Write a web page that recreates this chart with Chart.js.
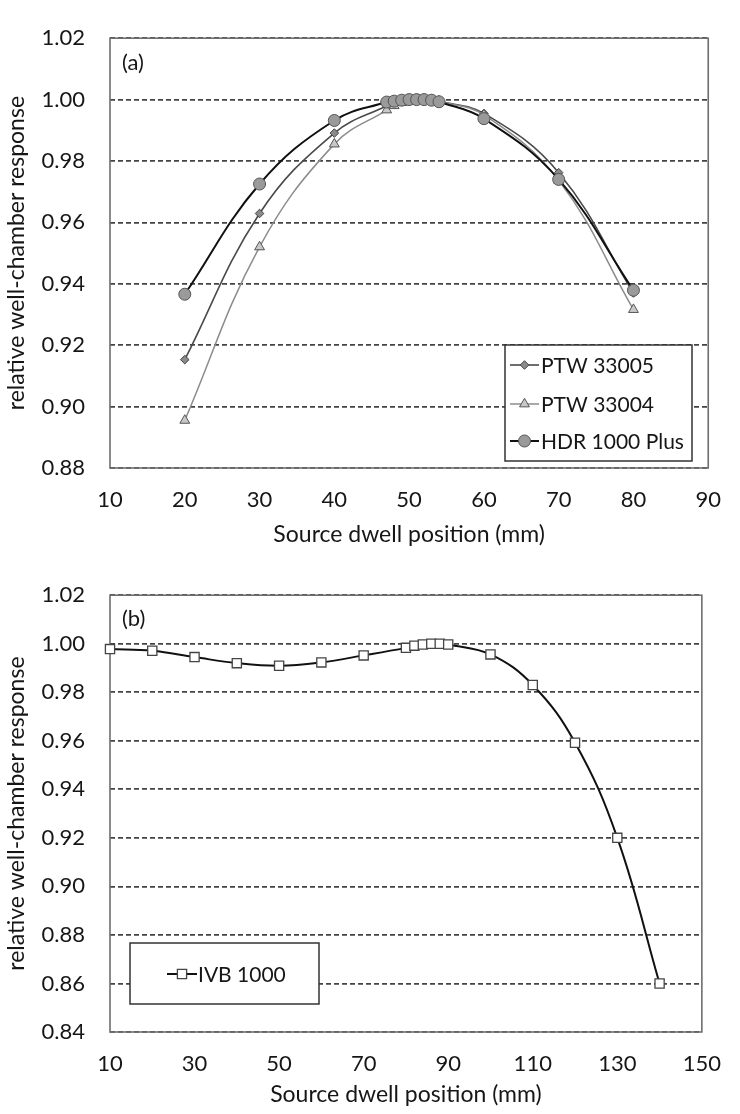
<!DOCTYPE html>
<html><head><meta charset="utf-8">
<script src="https://cdn.jsdelivr.net/npm/chart.js@4.4.1/dist/chart.umd.min.js"></script>
<style>
html,body{margin:0;padding:0;background:#fff;}
canvas{position:absolute;left:0;display:block;}
#chartA{top:0;}
#chartB{top:557px;}
</style></head><body>
<canvas id="chartA" width="740" height="557"></canvas>
<canvas id="chartB" width="740" height="557"></canvas>
<script>
// ---- data ----
const positionsA = [20, 30, 40, 47, 48, 49, 50, 51, 52, 53, 54, 60, 70, 80];
const ptw33005 = [0.9153, 0.9629, 0.9891, 0.998, 0.999, 0.9995, 1.0, 1.0, 1.0, 1.0, 0.9995, 0.9955, 0.9762, 0.937];
const ptw33004 = [0.8955, 0.952, 0.9855, 0.9966, 0.998, 0.999, 0.9995, 1.0, 1.0, 0.9998, 0.9995, 0.995, 0.9737, 0.9316];
const hdr1000Plus = [0.9366, 0.9725, 0.9932, 0.9992, 0.9995, 0.9998, 1.0, 1.0, 1.0, 0.9998, 0.9993, 0.9938, 0.974, 0.9379];
const positionsB = [10, 20, 30, 40, 50, 60, 70, 80, 82, 84, 86, 88, 90, 100, 110, 120, 130, 140];
const ivb1000 = [0.9978, 0.9971, 0.9945, 0.992, 0.9909, 0.9923, 0.9952, 0.9983, 0.9992, 0.9997, 1.0, 1.0, 0.9997, 0.9956, 0.983, 0.9592, 0.92, 0.86];
const xTicksA = [10, 20, 30, 40, 50, 60, 70, 80, 90];
const yTicksA = [0.88, 0.90, 0.92, 0.94, 0.96, 0.98, 1.00, 1.02];
const xTicksB = [10, 30, 50, 70, 90, 110, 130, 150];
const yTicksB = [0.84, 0.86, 0.88, 0.90, 0.92, 0.94, 0.96, 0.98, 1.00, 1.02];
const seriesNamesA = ['PTW 33005', 'PTW 33004', 'HDR 1000 Plus'];
const seriesNamesB = ['IVB 1000'];
const xTitle = 'Source dwell position (mm)';
const yTitle = 'relative well-chamber response';

// ---- styling ----
const FONT = 'Lato';
const TXT = '#161616';
const tickFont = {family: FONT, size: 22};
const titleFont = {family: FONT, size: 23};

function pts(xs, ys) { return xs.map((x, i) => ({x: x, y: ys[i]})); }

function drawMarker(ctx, style, x, y, r, fill, stroke, bw) {
  ctx.save();
  ctx.beginPath();
  if (style === 'circle') {
    ctx.arc(x, y, r, 0, Math.PI * 2);
  } else if (style === 'rectRot') {
    ctx.moveTo(x, y - r); ctx.lineTo(x + r, y); ctx.lineTo(x, y + r); ctx.lineTo(x - r, y); ctx.closePath();
  } else if (style === 'triangle') {
    let a = 0;
    ctx.moveTo(x + Math.sin(a) * r, y - Math.cos(a) * r);
    a += 2 * Math.PI / 3;
    ctx.lineTo(x + Math.sin(a) * r, y - Math.cos(a) * r);
    a += 2 * Math.PI / 3;
    ctx.lineTo(x + Math.sin(a) * r, y - Math.cos(a) * r);
    ctx.closePath();
  } else if (style === 'rect') {
    const s = Math.SQRT1_2 * r;
    ctx.rect(x - s, y - s, 2 * s, 2 * s);
  }
  ctx.fillStyle = fill; ctx.fill();
  ctx.lineWidth = bw; ctx.strokeStyle = stroke; ctx.stroke();
  ctx.restore();
}

function decoPlugin(panel, panelOffset, legendBox, entries) {
  return {
    id: 'deco' + panel,
    beforeDatasetsDraw(chart) {
      const a = chart.chartArea, ctx = chart.ctx;
      ctx.save();
      ctx.strokeStyle = '#6e6e6e';
      ctx.lineWidth = 1.6;
      ctx.strokeRect(a.left, a.top, a.right - a.left, a.bottom - a.top);
      ctx.fillStyle = TXT;
      ctx.font = '22px ' + FONT;
      ctx.textBaseline = 'middle';
      ctx.textAlign = 'left';
      ctx.fillText('(' + panel + ')', a.left + panelOffset[0], a.top + panelOffset[1]);
      ctx.restore();
    },
    afterDatasetsDraw(chart) {
      const ctx = chart.ctx;
      ctx.save();
      ctx.fillStyle = '#fff';
      ctx.fillRect(legendBox.x, legendBox.y, legendBox.w, legendBox.h);
      ctx.strokeStyle = '#333';
      ctx.lineWidth = 1.5;
      ctx.strokeRect(legendBox.x, legendBox.y, legendBox.w, legendBox.h);
      entries.forEach((e) => {
        const ds = chart.data.datasets[e.ds];
        ctx.beginPath();
        ctx.strokeStyle = ds.borderColor;
        ctx.lineWidth = ds.borderWidth;
        ctx.moveTo(e.x0, e.y); ctx.lineTo(e.x1, e.y); ctx.stroke();
        drawMarker(ctx, ds.pointStyle, (e.x0 + e.x1) / 2, e.y, ds.pointRadius, ds.pointBackgroundColor, ds.pointBorderColor, ds.pointBorderWidth);
        ctx.fillStyle = TXT;
        ctx.font = '21px ' + FONT;
        ctx.textBaseline = 'middle';
        ctx.textAlign = 'left';
        ctx.fillText(ds.label, e.tx, e.y + 1);
      });
      ctx.restore();
    }
  };
}

function axes(xmin, xmax, xt, ymin, ymax, yt, xHeight, xTitlePad) {
  return {
    x: {
      type: 'linear', min: xmin, max: xmax,
      afterBuildTicks: s => { s.ticks = xt.map(v => ({value: v})); },
      afterFit: s => { s.height = xHeight; },
      grid: {display: false, drawTicks: false},
      border: {display: false},
      ticks: {padding: 19, font: tickFont, color: TXT, maxRotation: 0, autoSkip: false},
      title: {display: true, text: xTitle, font: titleFont, color: TXT, padding: {top: 0, bottom: xTitlePad}}
    },
    y: {
      type: 'linear', min: ymin, max: ymax,
      afterBuildTicks: s => { s.ticks = yt.map(v => ({value: v})); },
      afterFit: s => { s.width = 110; },
      grid: {color: '#444', lineWidth: 1.7, drawTicks: false},
      border: {display: false, dash: [5, 3]},
      ticks: {padding: 25, font: tickFont, color: TXT, autoSkip: false, callback: v => Number(v).toFixed(2)},
      title: {display: true, text: yTitle, font: titleFont, color: TXT, padding: {top: 3, bottom: 0}}
    }
  };
}

const commonOpts = {
  responsive: false, animation: false, devicePixelRatio: 1,
  plugins: {legend: {display: false}, tooltip: {enabled: false}}
};

new Chart(document.getElementById('chartA'), {
  type: 'line',
  data: {datasets: [
    {label: seriesNamesA[0], data: pts(positionsA, ptw33005), borderColor: '#4a4a4a', borderWidth: 1.6,
     pointStyle: 'rectRot', pointRadius: 4.3, pointBackgroundColor: '#8a8a8a', pointBorderColor: '#444', pointBorderWidth: 1,
     tension: 0.4, order: 2, clip: false},
    {label: seriesNamesA[1], data: pts(positionsA, ptw33004), borderColor: '#8c8c8c', borderWidth: 1.5,
     pointStyle: 'triangle', pointRadius: 5.7, pointBackgroundColor: '#c8c8c8', pointBorderColor: '#555', pointBorderWidth: 1,
     tension: 0.4, order: 1, clip: false},
    {label: seriesNamesA[2], data: pts(positionsA, hdr1000Plus), borderColor: '#111', borderWidth: 2,
     pointStyle: 'circle', pointRadius: 6, pointBackgroundColor: '#9a9a9a', pointBorderColor: '#555', pointBorderWidth: 1,
     tension: 0.4, order: 0, clip: false}
  ]},
  options: Object.assign({}, commonOpts, {
    layout: {padding: {left: 0, right: 22, top: 14, bottom: 0}},
    scales: axes(10, 90, xTicksA, 0.88, 1.02, yTicksA, 89, 9)
  }),
  plugins: [decoPlugin('a', [12, 25], {x: 505, y: 345, w: 187, h: 116}, [
    {ds: 0, x0: 510, x1: 539, tx: 541, y: 365},
    {ds: 1, x0: 510, x1: 539, tx: 541, y: 404},
    {ds: 2, x0: 510, x1: 539, tx: 541, y: 441}
  ])]
});

new Chart(document.getElementById('chartB'), {
  type: 'line',
  data: {datasets: [
    {label: seriesNamesB[0], data: pts(positionsB, ivb1000), borderColor: '#111', borderWidth: 2,
     pointStyle: 'rect', pointRadius: 6.5, pointBackgroundColor: '#fff', pointBorderColor: '#444', pointBorderWidth: 1.3,
     tension: 0.4, clip: false}
  ]},
  options: Object.assign({}, commonOpts, {
    layout: {padding: {left: 0, right: 21, top: 22, bottom: 0}},
    scales: axes(10, 150, xTicksB, 0.84, 1.02, yTicksB, 82, 6)
  }),
  plugins: [decoPlugin('b', [12, 24], {x: 130, y: 386, w: 189, h: 61}, [
    {ds: 0, x0: 167, x1: 197, tx: 198, y: 417}
  ])]
});
</script>
</body></html>
